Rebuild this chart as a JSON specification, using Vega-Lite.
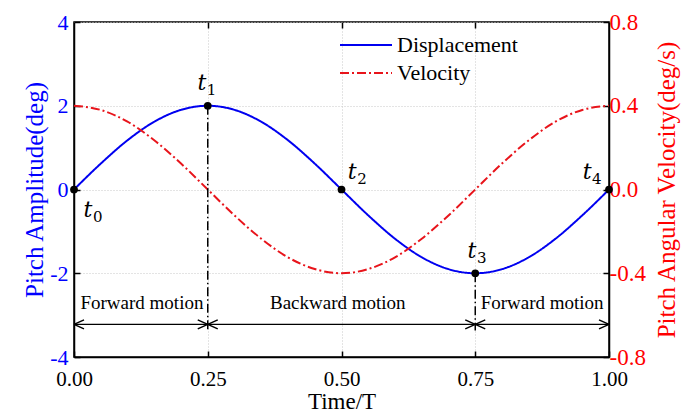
{
  "$schema": "https://vega.github.io/schema/vega-lite/v6.json",
  "width": 535,
  "height": 335,
  "autosize": {"type": "none"},
  "padding": {"left": 74, "top": 22, "right": 75, "bottom": 57},
  "background": "white",
  "config": {
    "view": {"stroke": "black", "strokeWidth": 1.5},
    "font": "Liberation Serif",
    "axis": {
      "labelFont": "Liberation Serif",
      "titleFont": "Liberation Serif",
      "titleFontWeight": "normal",
      "tickColor": "black",
      "domainColor": "black",
      "domainWidth": 1.5,
      "tickWidth": 1.5,
      "tickSize": -6,
      "gridColor": "#c8c8c8",
      "gridDash": [1, 2],
      "gridWidth": 1,
      "labelFlush": false,
      "labelOverlap": false,
      "labelBound": false
    },
    "legend": {
      "orient": "none",
      "legendX": 281,
      "legendY": 12,
      "symbolType": "M-2.6,0H2.6",
      "symbolSize": 400,
      "symbolStrokeWidth": 2,
      "labelFont": "Liberation Serif",
      "labelFontSize": 22,
      "labelColor": "black",
      "labelOffset": 20,
      "rowPadding": 6
    }
  },
  "datasets": {
    "curves": [
      {"t": 0.00, "series": "Displacement", "value": 0},
      {"t": 0.05, "series": "Displacement", "value": 0.618},
      {"t": 0.10, "series": "Displacement", "value": 1.176},
      {"t": 0.15, "series": "Displacement", "value": 1.618},
      {"t": 0.20, "series": "Displacement", "value": 1.902},
      {"t": 0.25, "series": "Displacement", "value": 2},
      {"t": 0.30, "series": "Displacement", "value": 1.902},
      {"t": 0.35, "series": "Displacement", "value": 1.618},
      {"t": 0.40, "series": "Displacement", "value": 1.176},
      {"t": 0.45, "series": "Displacement", "value": 0.618},
      {"t": 0.50, "series": "Displacement", "value": 0},
      {"t": 0.55, "series": "Displacement", "value": -0.618},
      {"t": 0.60, "series": "Displacement", "value": -1.176},
      {"t": 0.65, "series": "Displacement", "value": -1.618},
      {"t": 0.70, "series": "Displacement", "value": -1.902},
      {"t": 0.75, "series": "Displacement", "value": -2},
      {"t": 0.80, "series": "Displacement", "value": -1.902},
      {"t": 0.85, "series": "Displacement", "value": -1.618},
      {"t": 0.90, "series": "Displacement", "value": -1.176},
      {"t": 0.95, "series": "Displacement", "value": -0.618},
      {"t": 1.00, "series": "Displacement", "value": 0},
      {"t": 0.00, "series": "Velocity", "value": 0.4},
      {"t": 0.05, "series": "Velocity", "value": 0.380},
      {"t": 0.10, "series": "Velocity", "value": 0.324},
      {"t": 0.15, "series": "Velocity", "value": 0.235},
      {"t": 0.20, "series": "Velocity", "value": 0.124},
      {"t": 0.25, "series": "Velocity", "value": 0},
      {"t": 0.30, "series": "Velocity", "value": -0.124},
      {"t": 0.35, "series": "Velocity", "value": -0.235},
      {"t": 0.40, "series": "Velocity", "value": -0.324},
      {"t": 0.45, "series": "Velocity", "value": -0.380},
      {"t": 0.50, "series": "Velocity", "value": -0.4},
      {"t": 0.55, "series": "Velocity", "value": -0.380},
      {"t": 0.60, "series": "Velocity", "value": -0.324},
      {"t": 0.65, "series": "Velocity", "value": -0.235},
      {"t": 0.70, "series": "Velocity", "value": -0.124},
      {"t": 0.75, "series": "Velocity", "value": 0},
      {"t": 0.80, "series": "Velocity", "value": 0.124},
      {"t": 0.85, "series": "Velocity", "value": 0.235},
      {"t": 0.90, "series": "Velocity", "value": 0.324},
      {"t": 0.95, "series": "Velocity", "value": 0.380},
      {"t": 1.00, "series": "Velocity", "value": 0.4}
    ],
    "keypoints": [
      {"t": 0, "value": 0, "lx": 0.026, "ly": -0.48, "sub": "0"},
      {"t": 0.25, "value": 2, "lx": 0.239, "ly": 2.55, "sub": "1"},
      {"t": 0.5, "value": 0, "lx": 0.52, "ly": 0.41, "sub": "2"},
      {"t": 0.75, "value": -2, "lx": 0.744, "ly": -1.48, "sub": "3"},
      {"t": 1, "value": 0, "lx": 0.959, "ly": 0.41, "sub": "4"}
    ],
    "dividers": [
      {"t": 0.25, "top": 2, "bottom": -3.37},
      {"t": 0.75, "top": -2, "bottom": -3.37}
    ],
    "spans": [
      {"from": 0, "to": 0.25, "y": -3.22, "label": "Forward motion", "lx": 0.127, "ly": -2.72},
      {"from": 0.25, "to": 0.75, "y": -3.22, "label": "Backward motion", "lx": 0.493, "ly": -2.72},
      {"from": 0.75, "to": 1, "y": -3.22, "label": "Forward motion", "lx": 0.875, "ly": -2.72}
    ]
  },
  "layer": [
    {
      "data": {"name": "curves"},
      "transform": [{"filter": "datum.series === 'Displacement'"}],
      "mark": {"type": "line", "interpolate": "monotone", "strokeWidth": 2},
      "encoding": {
        "x": {
          "field": "t", "type": "quantitative",
          "scale": {"domain": [0, 1], "nice": false},
          "axis": {
            "orient": "bottom",
            "values": [0, 0.25, 0.5, 0.75, 1], "format": ".2f",
            "title": "Time/T", "labelFontSize": 21, "titleFontSize": 23,
            "labelColor": "black", "titleColor": "black",
            "labelPadding": 17, "titlePadding": 1, "grid": true
          }
        },
        "y": {
          "field": "value", "type": "quantitative",
          "scale": {"domain": [-4, 4], "nice": false},
          "axis": {
            "orient": "left",
            "values": [-4, -2, 0, 2, 4],
            "labelExpr": "replace(datum.label, '\u2212', '-')",
            "title": "Pitch Amplitude(deg)",
            "labelColor": "#0000FF", "titleColor": "#0000FF",
            "labelFontSize": 22, "titleFontSize": 25,
            "labelPadding": 12, "titlePadding": 2, "grid": true
          }
        },
        "color": {
          "field": "series", "type": "nominal",
          "scale": {"domain": ["Displacement", "Velocity"], "range": ["#0000F0", "#E8141B"]},
          "legend": {"title": null}
        },
        "strokeDash": {
          "field": "series", "type": "nominal",
          "scale": {"domain": ["Displacement", "Velocity"], "range": [[1, 0], [9, 3, 2, 3]]},
          "legend": {"title": null}
        }
      }
    },
    {
      "data": {"name": "curves"},
      "transform": [{"filter": "datum.series === 'Velocity'"}],
      "mark": {"type": "line", "interpolate": "monotone", "strokeWidth": 2},
      "encoding": {
        "x": {
          "field": "t", "type": "quantitative",
          "scale": {"domain": [0, 1], "nice": false},
          "axis": {"orient": "top", "labels": false, "grid": false, "domain": false, "title": null, "values": [0.25, 0.5, 0.75]}
        },
        "y": {
          "field": "value", "type": "quantitative",
          "scale": {"domain": [-0.8, 0.8], "nice": false},
          "axis": {
            "orient": "right", "values": [-0.8, -0.4, 0, 0.4, 0.8], "format": ".1f",
            "labelExpr": "replace(datum.label, '\u2212', '-')",
            "grid": false, "labelColor": "#FF0000", "titleColor": "#FF0000",
            "labelFontSize": 23, "titleFontSize": 25,
            "title": "Pitch Angular Velocity(deg/s)", "titleAngle": 270, "titleBaseline": "top",
            "labelPadding": 6, "titlePadding": 9
          }
        },
        "color": {
          "field": "series", "type": "nominal",
          "scale": {"domain": ["Displacement", "Velocity"], "range": ["#0000F0", "#E8141B"]},
          "legend": {"title": null}
        },
        "strokeDash": {
          "field": "series", "type": "nominal",
          "scale": {"domain": ["Displacement", "Velocity"], "range": [[1, 0], [9, 3, 2, 3]]},
          "legend": {"title": null}
        }
      }
    },
    {
      "data": {"name": "dividers"},
      "mark": {"type": "rule", "color": "black", "strokeWidth": 1.5, "strokeDash": [9, 3, 1.5, 3]},
      "encoding": {
        "x": {"field": "t", "type": "quantitative", "scale": {"domain": [0, 1], "nice": false}, "axis": null},
        "y": {"field": "top", "type": "quantitative", "scale": {"domain": [-4, 4], "nice": false}, "axis": null},
        "y2": {"field": "bottom"}
      }
    },
    {
      "data": {"name": "spans"},
      "mark": {"type": "rule", "color": "black", "strokeWidth": 1.3},
      "encoding": {
        "x": {"field": "from", "type": "quantitative", "scale": {"domain": [0, 1], "nice": false}, "axis": null},
        "x2": {"field": "to"},
        "y": {"field": "y", "type": "quantitative", "scale": {"domain": [-4, 4], "nice": false}, "axis": null}
      }
    },
    {
      "data": {"name": "spans"},
      "mark": {"type": "point", "shape": "M0,0L2,-0.9M0,0L2,0.9", "filled": false, "stroke": "black", "strokeWidth": 1.5, "size": 100, "opacity": 1},
      "encoding": {
        "x": {"field": "from", "type": "quantitative", "scale": {"domain": [0, 1], "nice": false}, "axis": null},
        "y": {"field": "y", "type": "quantitative", "scale": {"domain": [-4, 4], "nice": false}, "axis": null}
      }
    },
    {
      "data": {"name": "spans"},
      "mark": {"type": "point", "shape": "M0,0L-2,-0.9M0,0L-2,0.9", "filled": false, "stroke": "black", "strokeWidth": 1.5, "size": 100, "opacity": 1},
      "encoding": {
        "x": {"field": "to", "type": "quantitative", "scale": {"domain": [0, 1], "nice": false}, "axis": null},
        "y": {"field": "y", "type": "quantitative", "scale": {"domain": [-4, 4], "nice": false}, "axis": null}
      }
    },
    {
      "data": {"name": "spans"},
      "mark": {"type": "text", "font": "Liberation Serif", "fontSize": 19, "color": "black", "baseline": "middle", "align": "center"},
      "encoding": {
        "x": {"field": "lx", "type": "quantitative", "scale": {"domain": [0, 1], "nice": false}, "axis": null},
        "y": {"field": "ly", "type": "quantitative", "scale": {"domain": [-4, 4], "nice": false}, "axis": null},
        "text": {"field": "label"}
      }
    },
    {
      "data": {"name": "keypoints"},
      "mark": {"type": "text", "font": "DejaVu Serif", "fontStyle": "italic", "fontSize": 22, "color": "black", "baseline": "middle", "align": "center", "text": "t"},
      "encoding": {
        "x": {"field": "lx", "type": "quantitative", "scale": {"domain": [0, 1], "nice": false}, "axis": null},
        "y": {"field": "ly", "type": "quantitative", "scale": {"domain": [-4, 4], "nice": false}, "axis": null}
      }
    },
    {
      "data": {"name": "keypoints"},
      "mark": {"type": "text", "font": "DejaVu Serif", "fontSize": 15, "color": "black", "baseline": "middle", "align": "left", "dx": 5, "dy": 7},
      "encoding": {
        "x": {"field": "lx", "type": "quantitative", "scale": {"domain": [0, 1], "nice": false}, "axis": null},
        "y": {"field": "ly", "type": "quantitative", "scale": {"domain": [-4, 4], "nice": false}, "axis": null},
        "text": {"field": "sub"}
      }
    },
    {
      "data": {"name": "keypoints"},
      "mark": {"type": "circle", "color": "black", "size": 60, "opacity": 1},
      "encoding": {
        "x": {"field": "t", "type": "quantitative", "scale": {"domain": [0, 1], "nice": false}, "axis": null},
        "y": {"field": "value", "type": "quantitative", "scale": {"domain": [-4, 4], "nice": false}, "axis": null}
      }
    }
  ],
  "resolve": {"scale": {"y": "independent"}}
}
